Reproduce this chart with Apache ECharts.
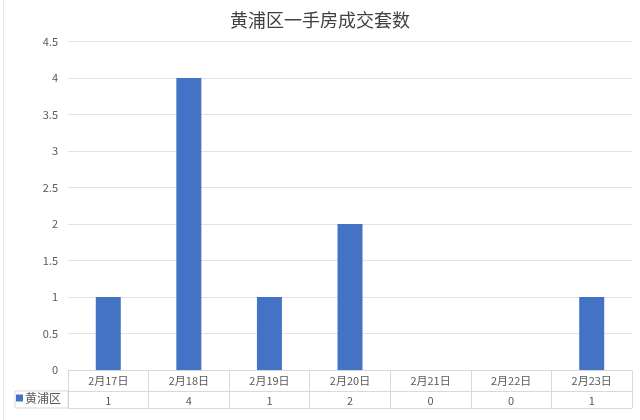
<!DOCTYPE html>
<html>
<head>
<meta charset="utf-8">
<script src="https://cdn.jsdelivr.net/npm/echarts@6/dist/echarts.min.js"></script>
<style>
html, body { margin: 0; padding: 0; background: #fff; }
#content { width: 640px; height: 420px; }
</style>
</head>
<body>
<div id="content"></div>
<script>
var categories = ['2月17日', '2月18日', '2月19日', '2月20日', '2月21日', '2月22日', '2月23日'];
var seriesName = '黄浦区';
var values = [1, 4, 1, 2, 0, 0, 1];

var myChart = echarts.init(document.getElementById('content'));
var grayLine = { color: '#d9d9d9', width: 1 };
var font = '"Noto Sans CJK SC", "Noto Sans", sans-serif';

var option = {
    backgroundColor: '#fff',
    animation: false,
    title: {
        text: '黄浦区一手房成交套数',
        left: 'center',
        top: 6,
        textStyle: { fontSize: 18, fontWeight: 'normal', color: '#404040', fontFamily: font }
    },
    legend: {
        left: 16,
        top: 392,
        itemWidth: 7,
        itemHeight: 7,
        itemGap: 2,
        padding: 0,
        icon: 'rect',
        data: [seriesName],
        textStyle: { fontSize: 12, color: '#595959', fontFamily: font, padding: [0, 0, 0, -3] }
    },
    grid: { left: 68, right: 8, top: 41.5, bottom: 50 },
    xAxis: [
        {
            type: 'category',
            data: categories,
            position: 'bottom',
            axisLine: { show: true, lineStyle: grayLine },
            axisTick: { show: true, interval: 0, length: 38, lineStyle: grayLine },
            axisLabel: { margin: 5, fontSize: 11, color: '#595959', fontFamily: font }
        },
        {
            type: 'category',
            data: values.map(String),
            position: 'bottom',
            offset: 21,
            axisLine: { show: true, lineStyle: grayLine },
            axisTick: { show: false },
            axisLabel: { margin: 4, fontSize: 11, color: '#595959', fontFamily: font }
        },
        {
            type: 'category',
            data: categories,
            position: 'bottom',
            offset: 38,
            axisLine: { show: true, lineStyle: grayLine },
            axisTick: { show: false },
            axisLabel: { show: false }
        }
    ],
    yAxis: {
        type: 'value',
        min: 0,
        max: 4.5,
        interval: 0.5,
        axisLine: { show: false },
        axisTick: { show: false },
        splitLine: { lineStyle: { color: '#e3e3e3' } },
        axisLabel: { margin: 10, fontSize: 11, color: '#595959', fontFamily: font }
    },
    graphic: [
        { type: 'rect', shape: { x: 15, y: 391, width: 53, height: 17 }, style: { fill: 'none', stroke: '#d9d9d9', lineWidth: 1 } },
        { type: 'line', shape: { x1: 3.5, y1: 0, x2: 3.5, y2: 420 }, style: { stroke: '#e6e6e6', lineWidth: 1 } }
    ],
    series: [
        {
            name: seriesName,
            type: 'bar',
            xAxisIndex: 0,
            data: values,
            barWidth: 25,
            itemStyle: { color: '#4472c4' }
        }
    ]
};
myChart.setOption(option);
</script>
</body>
</html>
